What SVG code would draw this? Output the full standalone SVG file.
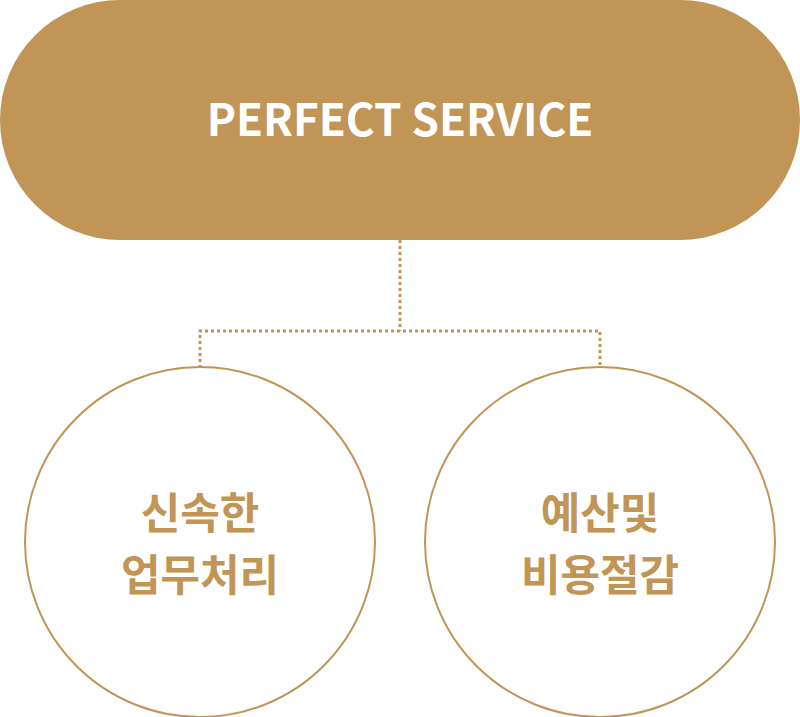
<svg xmlns="http://www.w3.org/2000/svg" width="800" height="717" viewBox="0 0 800 717">
<style>
.pill{fill:#c09556}
.title{font-family:"Noto Sans CJK KR","Noto Sans",sans-serif;font-weight:700;font-size:44px;fill:#fff;text-anchor:middle}
.circ{fill:#fff;stroke:#c09556;stroke-width:2}
.lbl{font-family:"Noto Sans CJK KR",sans-serif;font-weight:700;font-size:43px;fill:#c09556;text-anchor:middle}
.conn{fill:none;stroke:#c09556;stroke-width:3;stroke-dasharray:3 3}
</style>
<g id="connectors">
<path class="conn" d="M400 240 V331 M200 368 V331 H600 V368"/>
</g>
<g id="top">
<rect class="pill" x="0" y="0" width="800" height="240" rx="120" ry="120"/>
<text class="title" x="400" y="136">PERFECT SERVICE</text>
</g>
<g id="left">
<circle class="circ" cx="200" cy="542" r="175"/>
<text class="lbl" x="200" y="529">신속한</text>
<text class="lbl" x="200" y="591">업무처리</text>
</g>
<g id="right">
<circle class="circ" cx="600" cy="542" r="175"/>
<text class="lbl" x="600" y="529">예산및</text>
<text class="lbl" x="600" y="591">비용절감</text>
</g>
</svg>
